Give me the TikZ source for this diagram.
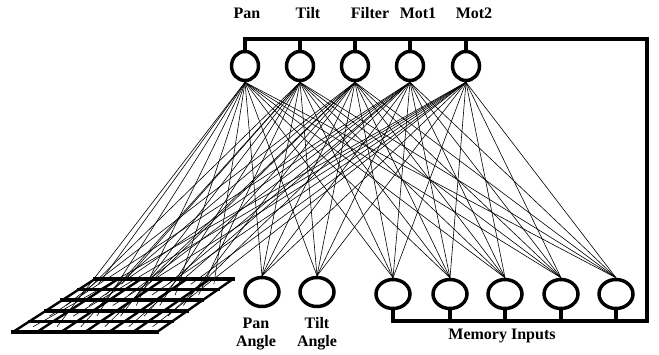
\documentclass[tikz,border=0pt]{standalone}
\usepackage{fontspec}
\setmainfont{Liberation Serif}
\usetikzlibrary{shapes.geometric,calc}
\begin{document}
\begin{tikzpicture}[x=0.75pt,y=-0.75pt,
  neuron/.style={ellipse,draw,line width=2.6pt,minimum width=20.25pt,minimum height=21.75pt,inner sep=0pt},
  memneuron/.style={ellipse,draw,line width=2.6pt,minimum width=25.5pt,minimum height=21.75pt,inner sep=0pt},
  bus/.style={line width=2.6pt,line join=miter},
  wire/.style={line width=0.45pt},
  gridh/.style={line width=2.6pt,line cap=rect},
  gridv/.style={line width=1.8pt},
  lbl/.style={font=\fontsize{12}{14}\selectfont\bfseries,inner sep=0pt}]
\useasboundingbox (0,0) rectangle (659,354);

% output neurons
\foreach \n/\x in {1/245,2/300,3/355,4/410,5/466}
  \node[neuron] (t\n) at (\x,66) {};
% input neurons
\node[memneuron] (a1) at (262,292) {};
\node[memneuron] (a2) at (317,292) {};
\foreach \n/\x in {1/393,2/450,3/505,4/561,5/616}
  \node[memneuron] (m\n) at (\x,294) {};

% labels
\node[lbl] (lpan)  at (247,13) {Pan};
\node[lbl] (ltilt) at (308,13) {Tilt};
\node[lbl] (lfil)  at (370,13) {Filter};
\node[lbl] (lm1)   at (418,13) {Mot1};
\node[lbl] (lm2)   at (474,13) {Mot2};
\node[lbl] (lpa1)  at (256,323) {Pan};
\node[lbl] (lpa2)  at (256,343) {Angle};
\node[lbl] (lta1)  at (317,323) {Tilt};
\node[lbl] (lta2)  at (317,343) {Angle};
\node[lbl] (lmem)  at (502,336) {Memory Inputs};

% grid geometry
\coordinate (TL) at (95,279);
\coordinate (TR) at (233,279);
\coordinate (BL) at (13,332);
\coordinate (BR) at (157,332);
\foreach \r in {0,...,4} {
  \foreach \c in {0,...,5} {
    \pgfmathsetmacro\vv{(\r+0.5)/5}
    \pgfmathsetmacro\uu{(\c+0.5)/6}
    \coordinate (g-\r-\c) at ($ ($(TL)!\vv!(BL)$)!\uu!($(TR)!\vv!(BR)$) $);
  }
}

% connections
\foreach \n in {1,...,5} {
  \foreach \b in {a1,a2,m1,m2,m3,m4,m5}
    \draw[wire] (t\n.south) -- (\b.north);
}
\foreach \r in {0,...,4} {
  \foreach \c in {0,...,5} {
    \pgfmathtruncatemacro\kk{mod(\r+\c,5)+1}
    \draw[wire] (t\kk.south) -- (g-\r-\c);
  }
}

% grid
\foreach \i in {0,...,5}
  \draw[gridh] ($(TL)!{\i/5}!(BL)$) -- ($(TR)!{\i/5}!(BR)$);
\foreach \j in {0,...,6}
  \draw[gridv] ($(TL)!{\j/6}!(TR)$) -- ($(BL)!{\j/6}!(BR)$);

% buses
\coordinate (cTR) at (647,39);
\coordinate (cBR) at (647,321);
\draw[bus] (t1.north) -- (t1.north |- cTR) -- (cTR) -- (cBR) -- (m1.south |- cBR) -- (m1.south);
\foreach \n in {2,...,5}
  \draw[bus] (t\n.north) -- (t\n.north |- cTR);
\foreach \n in {2,...,5}
  \draw[bus] (m\n.south) -- (m\n.south |- cBR);
\end{tikzpicture}
\end{document}
